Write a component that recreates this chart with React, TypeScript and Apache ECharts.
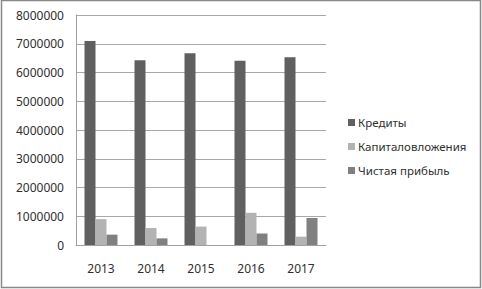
import React, { useEffect, useRef } from "react";
import * as echarts from "echarts";

const categories = ["2013", "2014", "2015", "2016", "2017"];
const credits = [7100000, 6430000, 6670000, 6410000, 6530000];
const investments = [900000, 590000, 640000, 1120000, 290000];
const netProfit = [360000, 230000, 0, 400000, 940000];
const seriesNames = ["Кредиты", "Капиталовложения", "Чистая прибыль"];
const colors = ["#606060", "#b3b3b3", "#808080"];

export default function App() {
  const ref = useRef<HTMLDivElement>(null);
  useEffect(() => {
    if (!ref.current) return;
    const chart = echarts.init(ref.current, null, { renderer: "svg" });
    const font = "Noto Sans";
    chart.setOption({
      animation: false,
      textStyle: { fontFamily: font },
      graphic: [
        {
          type: "rect",
          shape: { x: 1.5, y: 0.5, width: 479, height: 287 },
          style: { fill: "none", stroke: "#888888", lineWidth: 1.5 },
          silent: true,
        },
      ],
      grid: { left: 76, right: 156, top: 15, bottom: 44, containLabel: false },
      legend: {
        orient: "vertical",
        left: 343,
        top: 111,
        itemWidth: 7,
        itemHeight: 7,
        itemGap: 11,
        icon: "rect",
        data: seriesNames,
        textStyle: { fontSize: 11.5, lineHeight: 13, color: "#303030", fontFamily: font, padding: [0, 0, 0, -2] },
      },
      xAxis: {
        type: "category",
        data: categories,
        axisLine: { show: true, lineStyle: { color: "#a0a0a0", width: 1 } },
        axisTick: { show: false },
        axisLabel: { color: "#303030", fontSize: 12, margin: 17, fontFamily: font },
      },
      yAxis: {
        type: "value",
        min: 0,
        max: 8000000,
        interval: 1000000,
        axisLine: { show: true, lineStyle: { color: "#a0a0a0", width: 1 } },
        axisTick: { show: false },
        splitLine: { lineStyle: { color: "#a8a8a8", width: 1 } },
        axisLabel: {
          color: "#303030",
          fontSize: 12,
          margin: 12,
          fontFamily: font,
          formatter: (v: number) => String(v),
        },
      },
      series: [
        { name: seriesNames[0], type: "bar", data: credits, itemStyle: { color: colors[0] }, barWidth: 11, barGap: "0%" },
        { name: seriesNames[1], type: "bar", data: investments, itemStyle: { color: colors[1] }, barWidth: 11, barGap: "0%" },
        { name: seriesNames[2], type: "bar", data: netProfit, itemStyle: { color: colors[2] }, barWidth: 11, barGap: "0%" },
      ],
    });
    return () => chart.dispose();
  }, []);
  return (
    <div
      ref={ref}
      style={{ position: "fixed", left: 0, top: 0, width: 482, height: 289, background: "#ffffff" }}
    />
  );
}
